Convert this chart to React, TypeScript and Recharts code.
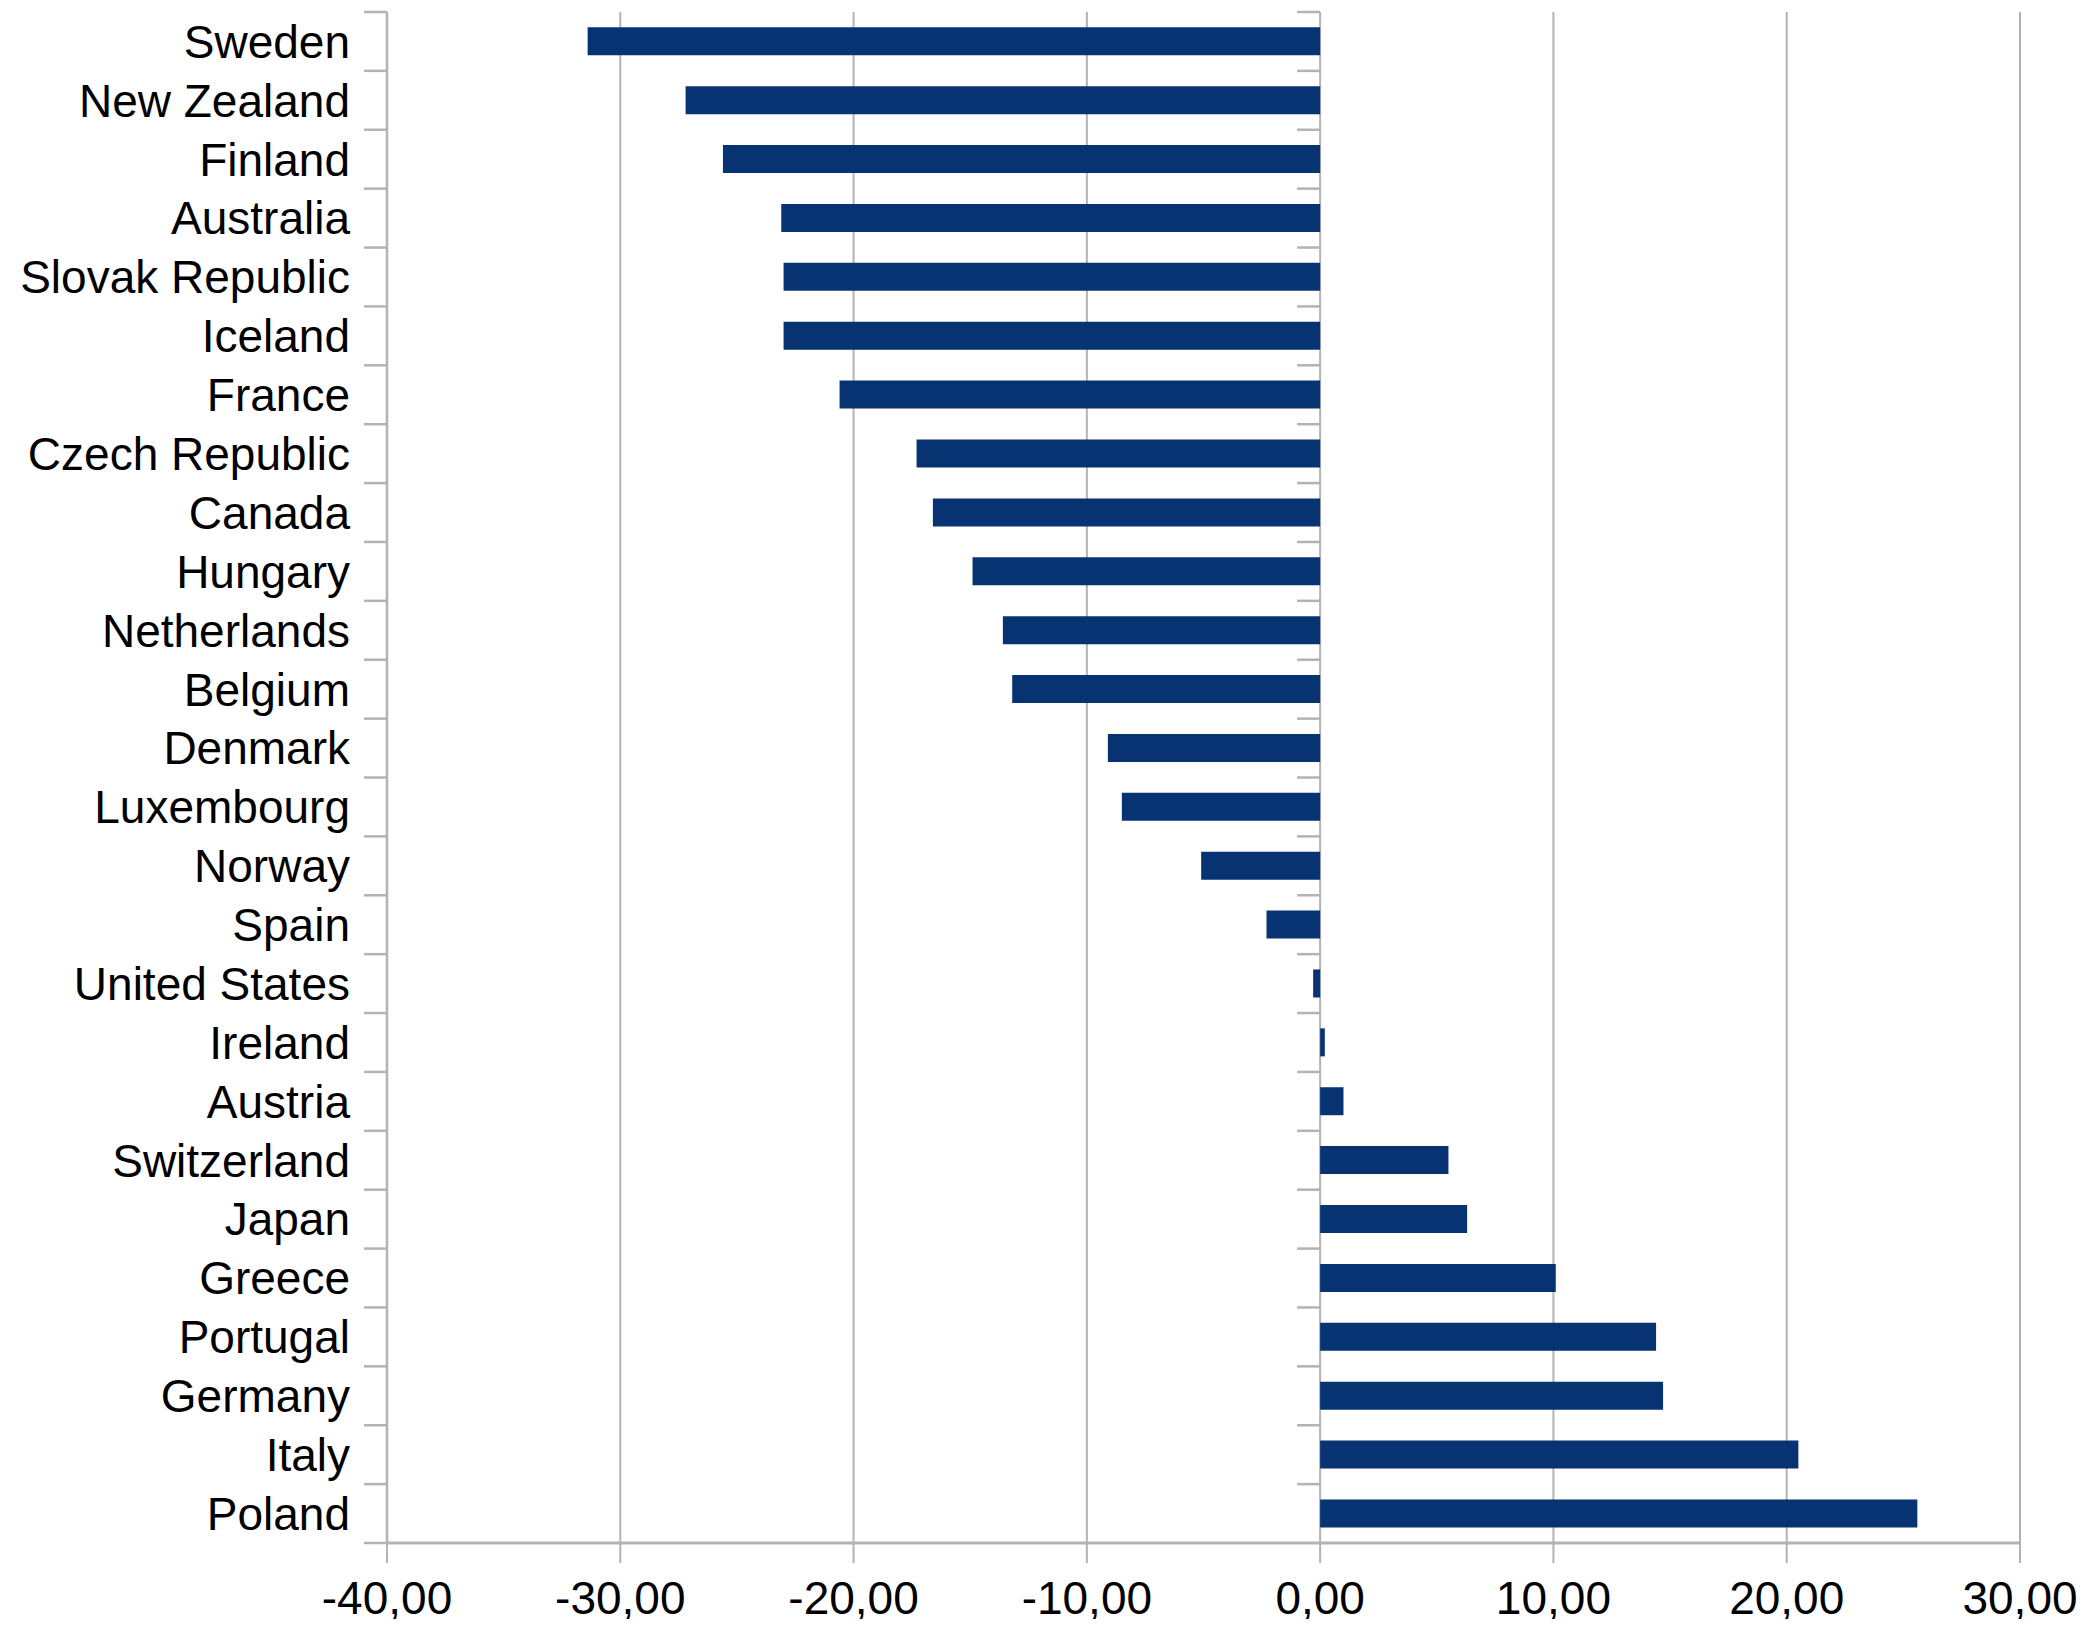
import React from 'react';
import { BarChart, Bar, XAxis, YAxis, CartesianGrid } from 'recharts';

const countries = [
  'Sweden', 'New Zealand', 'Finland', 'Australia', 'Slovak Republic', 'Iceland', 'France',
  'Czech Republic', 'Canada', 'Hungary', 'Netherlands', 'Belgium', 'Denmark', 'Luxembourg',
  'Norway', 'Spain', 'United States', 'Ireland', 'Austria', 'Switzerland', 'Japan', 'Greece',
  'Portugal', 'Germany', 'Italy', 'Poland',
];
const values = [
  -31.4, -27.2, -25.6, -23.1, -23.0, -23.0, -20.6,
  -17.3, -16.6, -14.9, -13.6, -13.2, -9.1, -8.5,
  -5.1, -2.3, -0.3, 0.2, 1.0, 5.5, 6.3, 10.1,
  14.4, 14.7, 20.5, 25.6,
];
const xTicks = [-40, -30, -20, -10, 0, 10, 20, 30];
const xDomain: [number, number] = [-40, 30];

const data = countries.map((c, i) => ({ name: c, value: values[i] }));

const W = 2070;
const H = 1611;
const MARGIN = { top: 4, right: 58, bottom: 6, left: 0 };
const Y_W = 379;
const X_H = 70;
const TICK_SIZE = 23;
const TICK_MARGIN = 14;
const GRID = '#b3b3b3';
const BAR = '#073373';
const FONT = '"Liberation Sans", Arial, sans-serif';

const plotLeft = MARGIN.left + Y_W;
const plotWidth = W - MARGIN.right - plotLeft;
const plotHeight = H - MARGIN.top - MARGIN.bottom - X_H;
const zeroX = plotLeft + ((0 - xDomain[0]) / (xDomain[1] - xDomain[0])) * plotWidth;

const YTick = (props: any) => {
  const { x, y, payload, index } = props;
  const axisX = x + TICK_SIZE + TICK_MARGIN;
  const off = payload && typeof payload.offset === 'number' && payload.offset > 0
    ? payload.offset
    : plotHeight / countries.length / 2;
  const last = index === countries.length - 1;
  const yb = y - off;
  return (
    <g>
      <line x1={axisX - TICK_SIZE} x2={axisX} y1={yb} y2={yb} stroke={GRID} strokeWidth={2.5} />
      <line x1={zeroX - TICK_SIZE} x2={zeroX} y1={yb} y2={yb} stroke={GRID} strokeWidth={2.5} />
      {last && (
        <line x1={axisX - TICK_SIZE} x2={axisX} y1={y + off} y2={y + off} stroke={GRID} strokeWidth={2.5} />
      )}
      <text x={x} y={y} dy="0.355em" textAnchor="end" fontSize={46} fontFamily={FONT} fill="#000">
        {payload.value}
      </text>
    </g>
  );
};

const XTick = (props: any) => {
  const { x, y, payload } = props;
  return (
    <text x={x} y={y} dy="0.71em" textAnchor="middle" fontSize={46} fontFamily={FONT} fill="#000">
      {Number(payload.value).toFixed(2).replace('.', ',')}
    </text>
  );
};

export default function App() {
  return (
    <div style={{ width: W, height: H }}>
      <BarChart
        width={W}
        height={H}
        data={data}
        layout="vertical"
        margin={MARGIN}
        barCategoryGap="26%"
      >
        <CartesianGrid horizontal={false} vertical={true} stroke={GRID} strokeWidth={2} />
        <XAxis
          type="number"
          dataKey="value"
          domain={xDomain}
          ticks={xTicks}
          interval={0}
          height={X_H}
          allowDataOverflow
          tick={<XTick />}
          tickSize={20}
          tickMargin={18}
          tickLine={{ stroke: GRID, strokeWidth: 2 }}
          axisLine={{ stroke: GRID, strokeWidth: 3 }}
        />
        <XAxis
          xAxisId="top"
          type="number"
          orientation="top"
          domain={xDomain}
          height={0}
          tick={false}
          tickLine={false}
          axisLine={{ stroke: GRID, strokeWidth: 3 }}
        />
        <YAxis
          type="category"
          dataKey="name"
          width={Y_W}
          interval={0}
          tickSize={TICK_SIZE}
          tickMargin={TICK_MARGIN}
          tickLine={false}
          tick={<YTick />}
          axisLine={{ stroke: GRID, strokeWidth: 2.5 }}
        />
        <Bar dataKey="value" fill={BAR} isAnimationActive={false} />
      </BarChart>
    </div>
  );
}
